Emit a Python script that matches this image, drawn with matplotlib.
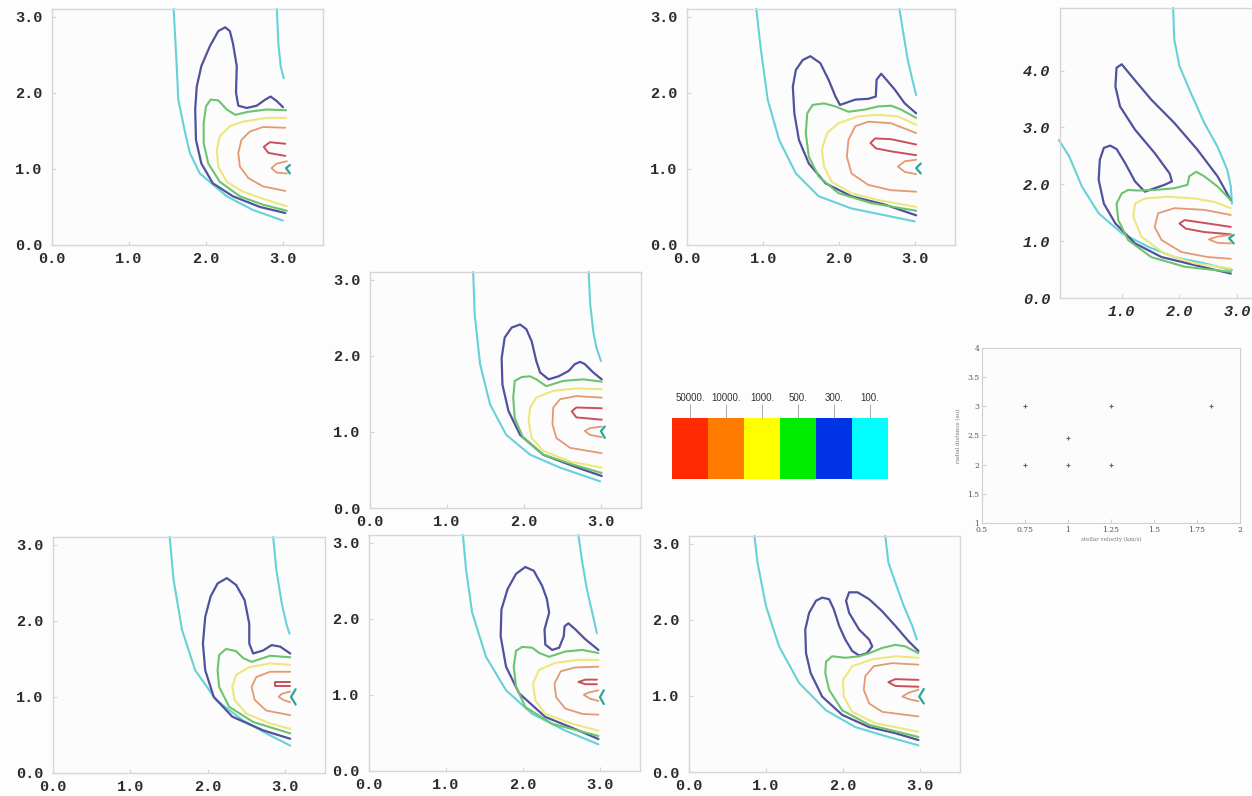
import matplotlib
matplotlib.use("Agg")
import matplotlib.pyplot as plt

# contour levels and their line / key colours
levels = ["50000.", "10000.", "1000.", "500.", "300.", "100."]
key_colors = ["#ff2a00", "#ff7c00", "#ffff00", "#00ec00", "#0032e6", "#00ffff"]
line_colors = {"red": "#c8505a", "orange": "#e39a72", "yellow": "#ece77e",
               "green": "#6cc46e", "blue": "#50529e", "cyan": "#66d2d8", "teal": "#2aa59a"}

# --- run a ---
a_cyan = [(1.58, 3.1), (1.62, 2.35), (1.64, 1.91), (1.73, 1.47), (1.79, 1.21), (1.92, 0.94),
          (2.27, 0.64), (2.61, 0.46), (3.00, 0.32)]
a_cyan_top = [(2.92, 3.1), (2.94, 2.65), (2.97, 2.35), (3.01, 2.19)]
a_blue = [(3.00, 1.81), (2.92, 1.89), (2.84, 1.95), (2.77, 1.91), (2.66, 1.83), (2.53, 1.80),
          (2.42, 1.83), (2.39, 2.00), (2.40, 2.35), (2.35, 2.65), (2.31, 2.81), (2.25, 2.86),
          (2.16, 2.81), (2.05, 2.61), (1.94, 2.35), (1.88, 2.08), (1.86, 1.78), (1.87, 1.38),
          (1.94, 1.07), (2.09, 0.81), (2.35, 0.64), (2.70, 0.50), (3.03, 0.42)]
a_green = [(3.04, 1.77), (2.79, 1.78), (2.55, 1.75), (2.38, 1.71), (2.27, 1.78), (2.16, 1.90),
           (2.06, 1.91), (2.00, 1.82), (1.97, 1.60), (1.97, 1.34), (2.03, 1.07), (2.18, 0.83),
           (2.44, 0.64), (2.74, 0.53), (3.05, 0.45)]
a_yellow = [(3.04, 1.67), (2.79, 1.67), (2.48, 1.62), (2.31, 1.56), (2.18, 1.43), (2.14, 1.25),
            (2.16, 1.03), (2.27, 0.83), (2.48, 0.70), (2.79, 0.59), (3.05, 0.51)]
a_orange = [(3.03, 1.54), (2.74, 1.55), (2.57, 1.49), (2.46, 1.38), (2.42, 1.21), (2.44, 1.03),
            (2.55, 0.88), (2.74, 0.77), (3.03, 0.71)]
a_red = [(3.03, 1.33), (2.83, 1.35), (2.75, 1.29), (2.81, 1.21), (3.03, 1.17)]
a_inner = [(3.05, 1.10), (2.92, 1.07), (2.85, 1.01), (2.92, 0.95), (3.05, 0.94)]
a_teal = [(3.09, 1.05), (3.04, 1.01), (3.09, 0.94)]

# --- run b ---
b_cyan = [(0.91, 3.1), (0.97, 2.57), (1.06, 1.91), (1.21, 1.38), (1.43, 0.94), (1.73, 0.64),
          (2.16, 0.48), (2.60, 0.39), (2.99, 0.31)]
b_cyan_top = [(2.79, 3.1), (2.84, 2.79), (2.90, 2.43), (2.97, 2.13), (3.01, 1.97)]
b_blue = [(3.01, 1.73), (2.86, 1.86), (2.73, 2.04), (2.62, 2.17), (2.55, 2.25), (2.49, 2.17),
          (2.48, 1.95), (2.38, 1.92), (2.21, 1.91), (2.01, 1.84), (1.95, 1.95), (1.86, 2.17),
          (1.75, 2.39), (1.62, 2.48), (1.52, 2.43), (1.43, 2.30), (1.39, 2.08), (1.41, 1.73),
          (1.47, 1.38), (1.60, 1.07), (1.82, 0.81), (2.16, 0.64), (2.60, 0.53), (3.01, 0.39)]
b_green = [(3.01, 1.67), (2.81, 1.78), (2.68, 1.83), (2.51, 1.82), (2.34, 1.78), (2.12, 1.75),
           (1.95, 1.82), (1.80, 1.86), (1.65, 1.84), (1.58, 1.73), (1.56, 1.47), (1.60, 1.16),
           (1.73, 0.90), (1.99, 0.68), (2.42, 0.55), (3.01, 0.45)]
b_yellow = [(3.01, 1.58), (2.77, 1.69), (2.51, 1.71), (2.25, 1.69), (1.99, 1.60), (1.84, 1.47),
            (1.77, 1.25), (1.80, 1.03), (1.90, 0.83), (2.16, 0.68), (2.51, 0.59), (3.01, 0.50)]
b_orange = [(3.01, 1.47), (2.68, 1.60), (2.38, 1.62), (2.21, 1.56), (2.12, 1.38), (2.10, 1.16),
            (2.16, 0.94), (2.38, 0.79), (2.68, 0.72), (3.01, 0.70)]
b_red = [(3.01, 1.32), (2.68, 1.39), (2.47, 1.40), (2.41, 1.34), (2.48, 1.27), (2.68, 1.23),
         (3.01, 1.18)]
b_inner = [(3.01, 1.12), (2.86, 1.10), (2.77, 1.03), (2.86, 0.96), (3.01, 0.93)]
b_teal = [(3.07, 1.07), (3.01, 1.01), (3.07, 0.94)]

# --- run c (taller domain) ---
c_cyan = [(-0.09, 2.78), (0.09, 2.49), (0.31, 1.96), (0.60, 1.49), (1.00, 1.14), (1.46, 0.90),
          (1.91, 0.72), (2.43, 0.61), (2.91, 0.49)]
c_cyan_top = [(1.89, 5.1), (1.91, 4.55), (2.00, 4.08), (2.20, 3.60), (2.43, 3.08), (2.66, 2.66),
              (2.83, 2.25), (2.89, 1.96), (2.91, 1.66)]
c_blue = [(2.89, 1.72), (2.66, 2.14), (2.31, 2.61), (1.91, 3.08), (1.51, 3.49), (1.17, 3.90),
          (1.00, 4.11), (0.91, 4.05), (0.89, 3.72), (0.97, 3.37), (1.23, 2.96), (1.57, 2.55),
          (1.83, 2.19), (1.87, 2.05), (1.74, 1.99), (1.40, 1.87), (1.23, 2.05), (1.06, 2.37),
          (0.91, 2.62), (0.80, 2.68), (0.69, 2.64), (0.62, 2.43), (0.60, 2.08), (0.69, 1.66),
          (0.89, 1.31), (1.23, 0.96), (1.69, 0.72), (2.26, 0.58), (2.89, 0.43)]
c_green = [(2.89, 1.72), (2.66, 1.96), (2.43, 2.14), (2.29, 2.22), (2.17, 2.14), (2.14, 1.99),
           (1.91, 1.93), (1.57, 1.90), (1.29, 1.89), (1.11, 1.90), (1.00, 1.84), (0.91, 1.66),
           (0.94, 1.37), (1.11, 1.02), (1.51, 0.72), (2.09, 0.55), (2.89, 0.46)]
c_yellow = [(2.89, 1.58), (2.60, 1.69), (2.26, 1.75), (1.80, 1.78), (1.40, 1.75), (1.23, 1.66),
            (1.20, 1.43), (1.34, 1.08), (1.74, 0.78), (2.26, 0.61), (2.89, 0.52)]
c_orange = [(2.89, 1.46), (2.43, 1.55), (1.91, 1.58), (1.63, 1.49), (1.57, 1.25), (1.69, 1.02),
            (2.03, 0.81), (2.49, 0.72), (2.89, 0.69)]
c_red = [(2.89, 1.25), (2.43, 1.32), (2.09, 1.37), (2.00, 1.31), (2.11, 1.22), (2.43, 1.16),
         (2.89, 1.12)]
c_inner = [(2.89, 1.11), (2.66, 1.08), (2.51, 1.03), (2.66, 0.97), (2.89, 0.96)]
c_teal = [(2.94, 1.11), (2.86, 1.05), (2.94, 0.96)]

# --- run d ---
d_cyan = [(1.34, 3.1), (1.36, 2.54), (1.43, 1.89), (1.56, 1.36), (1.77, 0.96), (2.08, 0.70),
          (2.47, 0.53), (2.99, 0.35)]
d_cyan_top = [(2.84, 3.1), (2.86, 2.68), (2.90, 2.32), (2.94, 2.11), (3.00, 1.93)]
d_blue = [(3.01, 1.69), (2.90, 1.78), (2.79, 1.89), (2.73, 1.92), (2.66, 1.89), (2.58, 1.80),
          (2.45, 1.73), (2.32, 1.69), (2.21, 1.78), (2.16, 1.93), (2.10, 2.19), (2.03, 2.35),
          (1.95, 2.41), (1.84, 2.37), (1.75, 2.24), (1.71, 1.97), (1.72, 1.62), (1.80, 1.27),
          (1.95, 0.96), (2.25, 0.70), (2.64, 0.55), (3.01, 0.42)]
d_green = [(3.01, 1.66), (2.77, 1.69), (2.51, 1.67), (2.29, 1.60), (2.16, 1.69), (2.08, 1.73),
           (1.97, 1.72), (1.88, 1.67), (1.86, 1.45), (1.88, 1.18), (1.99, 0.92), (2.25, 0.70),
           (2.64, 0.57), (3.01, 0.46)]
d_yellow = [(3.01, 1.56), (2.68, 1.57), (2.38, 1.54), (2.16, 1.45), (2.08, 1.32), (2.06, 1.14),
            (2.10, 0.92), (2.25, 0.75), (2.60, 0.61), (3.01, 0.53)]
d_orange = [(3.01, 1.45), (2.68, 1.47), (2.47, 1.43), (2.38, 1.32), (2.37, 1.10), (2.42, 0.92),
            (2.60, 0.79), (3.01, 0.72)]
d_red = [(3.01, 1.31), (2.68, 1.32), (2.62, 1.27), (2.68, 1.19), (3.01, 1.16)]
d_inner = [(3.01, 1.07), (2.86, 1.05), (2.79, 1.01), (2.86, 0.96), (3.01, 0.93)]
d_teal = [(3.05, 1.07), (3.00, 1.01), (3.05, 0.92)]

# --- run f ---
f_cyan = [(1.51, 3.1), (1.56, 2.54), (1.67, 1.88), (1.84, 1.35), (2.11, 0.96), (2.46, 0.69),
          (2.76, 0.52), (3.07, 0.36)]
f_cyan_top = [(2.85, 3.1), (2.89, 2.67), (2.96, 2.23), (3.02, 1.96), (3.06, 1.83)]
f_blue = [(3.07, 1.57), (2.94, 1.66), (2.83, 1.68), (2.72, 1.61), (2.59, 1.57), (2.54, 1.70),
          (2.54, 1.96), (2.48, 2.27), (2.37, 2.47), (2.25, 2.56), (2.13, 2.49), (2.04, 2.32),
          (1.97, 2.05), (1.94, 1.70), (1.97, 1.35), (2.08, 1.00), (2.32, 0.74), (2.72, 0.56),
          (3.07, 0.45)]
f_green = [(3.07, 1.52), (2.81, 1.54), (2.57, 1.46), (2.46, 1.51), (2.37, 1.60), (2.24, 1.63),
           (2.15, 1.55), (2.13, 1.35), (2.15, 1.13), (2.28, 0.87), (2.59, 0.67), (3.07, 0.52)]
f_yellow = [(3.07, 1.42), (2.81, 1.44), (2.54, 1.39), (2.37, 1.29), (2.32, 1.13), (2.35, 0.96),
            (2.50, 0.78), (2.81, 0.65), (3.07, 0.58)]
f_orange = [(3.07, 1.33), (2.81, 1.33), (2.63, 1.26), (2.57, 1.13), (2.61, 0.96), (2.76, 0.82),
            (3.07, 0.76)]
f_red = [(3.07, 1.20), (2.87, 1.20), (2.87, 1.14), (3.07, 1.14)]
f_inner = [(3.07, 1.07), (2.96, 1.04), (2.92, 1.00), (2.98, 0.96), (3.07, 0.93)]
f_teal = [(3.14, 1.10), (3.08, 1.00), (3.14, 0.90)]

# --- run g ---
g_cyan = [(1.22, 3.1), (1.26, 2.65), (1.34, 2.08), (1.52, 1.50), (1.78, 1.06), (2.12, 0.75),
          (2.55, 0.53), (2.98, 0.35)]
g_cyan_top = [(2.72, 3.1), (2.77, 2.74), (2.83, 2.39), (2.90, 2.08), (2.96, 1.81)]
g_blue = [(2.98, 1.59), (2.81, 1.73), (2.68, 1.86), (2.59, 1.94), (2.54, 1.90), (2.53, 1.77),
          (2.47, 1.62), (2.38, 1.59), (2.29, 1.66), (2.28, 1.86), (2.34, 2.08), (2.31, 2.26),
          (2.25, 2.43), (2.14, 2.63), (2.03, 2.68), (1.91, 2.59), (1.80, 2.39), (1.72, 2.12),
          (1.71, 1.77), (1.78, 1.37), (1.95, 1.02), (2.29, 0.71), (2.68, 0.55), (2.98, 0.42)]
g_green = [(2.98, 1.55), (2.77, 1.59), (2.55, 1.57), (2.34, 1.50), (2.21, 1.55), (2.12, 1.62),
           (1.99, 1.63), (1.91, 1.58), (1.88, 1.37), (1.91, 1.11), (2.03, 0.84), (2.38, 0.62),
           (2.98, 0.46)]
g_yellow = [(2.98, 1.46), (2.72, 1.46), (2.42, 1.42), (2.21, 1.33), (2.13, 1.15), (2.16, 0.93),
            (2.29, 0.75), (2.64, 0.62), (2.98, 0.53)]
g_orange = [(2.98, 1.37), (2.68, 1.36), (2.49, 1.31), (2.41, 1.15), (2.43, 0.97), (2.55, 0.82),
            (2.77, 0.75), (2.98, 0.74)]
g_red = [(2.96, 1.20), (2.81, 1.20), (2.72, 1.17), (2.81, 1.14), (2.96, 1.14)]
g_inner = [(2.98, 1.06), (2.85, 1.03), (2.79, 1.00), (2.87, 0.95), (2.98, 0.92)]
g_teal = [(3.05, 1.06), (3.00, 0.97), (3.05, 0.88)]

# --- run h ---
h_cyan = [(0.85, 3.1), (0.89, 2.75), (1.00, 2.18), (1.17, 1.65), (1.43, 1.17), (1.78, 0.81),
          (2.16, 0.59), (2.59, 0.46), (2.98, 0.35)]
h_cyan_top = [(2.55, 3.1), (2.59, 2.75), (2.68, 2.49), (2.79, 2.18), (2.90, 1.92), (2.96, 1.74)]
h_blue = [(2.98, 1.59), (2.85, 1.72), (2.68, 1.92), (2.51, 2.11), (2.34, 2.27), (2.19, 2.36),
          (2.08, 2.36), (2.04, 2.25), (2.08, 2.09), (2.21, 1.87), (2.34, 1.74), (2.38, 1.65),
          (2.31, 1.56), (2.21, 1.53), (2.12, 1.59), (2.03, 1.74), (1.95, 1.92), (1.88, 2.14),
          (1.82, 2.27), (1.73, 2.29), (1.65, 2.25), (1.56, 2.09), (1.51, 1.87), (1.52, 1.56),
          (1.58, 1.30), (1.73, 0.99), (1.99, 0.75), (2.34, 0.59), (2.68, 0.51), (2.98, 0.42)]
h_green = [(2.98, 1.56), (2.81, 1.65), (2.68, 1.67), (2.51, 1.63), (2.34, 1.56), (2.21, 1.52),
           (2.03, 1.50), (1.86, 1.52), (1.78, 1.45), (1.77, 1.30), (1.82, 1.08), (1.99, 0.81),
           (2.34, 0.62), (2.98, 0.46)]
h_yellow = [(2.98, 1.50), (2.68, 1.52), (2.38, 1.48), (2.12, 1.39), (2.00, 1.21), (2.01, 0.99),
            (2.12, 0.79), (2.42, 0.64), (2.98, 0.53)]
h_orange = [(2.98, 1.41), (2.64, 1.43), (2.40, 1.39), (2.29, 1.26), (2.27, 1.08), (2.34, 0.90),
            (2.51, 0.79), (2.98, 0.73)]
h_red = [(2.98, 1.21), (2.68, 1.22), (2.59, 1.18), (2.68, 1.13), (2.98, 1.12)]
h_inner = [(2.98, 1.08), (2.85, 1.04), (2.77, 0.99), (2.88, 0.95), (2.98, 0.93)]
h_teal = [(3.05, 1.09), (2.99, 0.99), (3.05, 0.90)]

# sample points in the small parameter plot
samp_x = [0.75, 1.25, 1.83, 0.75, 1.0, 1.25, 1.0]
samp_y = [3.0, 3.0, 3.0, 2.0, 2.0, 2.0, 2.45]
samp_xticks = [0.5, 0.75, 1.0, 1.25, 1.5, 1.75, 2.0]
samp_xlabels = ["0.5", "0.75", "1", "1.25", "1.5", "1.75", "2"]
samp_yticks = [1.0, 1.5, 2.0, 2.5, 3.0, 3.5, 4.0]
samp_ylabels = ["1", "1.5", "2", "2.5", "3", "3.5", "4"]

W, H = 1252, 796
fig = plt.figure(figsize=(W / 100, H / 100), dpi=100)
fig.patch.set_facecolor("#fdfdfd")


def rect(left, top, right, bottom):
    return [left / W, 1 - bottom / H, (right - left) / W, (bottom - top) / H]


tick_font = dict(family="Liberation Mono", weight="bold", size=11, color="#2b2b2b")


def contour_panel(box, curves, xlim=(0, 3.52), ylim=(0, 3.1), xticks=(0, 1, 2, 3),
                  yticks=(0, 1, 2, 3), italic=False):
    ax = fig.add_axes(rect(*box))
    ax.set_facecolor("#fcfcfc")
    for pts, col, lw in curves:
        xs, ys = zip(*pts)
        ax.plot(xs, ys, color=line_colors[col], lw=lw, solid_joinstyle="round",
                solid_capstyle="round", clip_on=False)
    ax.set_xlim(*xlim)
    ax.set_ylim(*ylim)
    ax.set_xticks(xticks)
    ax.set_yticks(yticks)
    style = "italic" if italic else "normal"
    ax.set_xticklabels([f"{t:.1f}" for t in xticks], style=style, **tick_font)
    ax.set_yticklabels([f"{t:.1f}" for t in yticks], style=style, **tick_font)
    ax.tick_params(direction="in", length=3, color="#d4d4d4")
    ax.tick_params(axis="x", pad=5)
    ax.tick_params(axis="y", pad=7)
    for s in ax.spines.values():
        s.set_color("#d6d6d6")
        s.set_linewidth(1.0)
    return ax


def curve_set(cyan, cyan_top, blue, green, yellow, orange, red, inner, teal):
    return [(cyan, "cyan", 1.5), (cyan_top, "cyan", 1.5), (blue, "blue", 1.6),
            (green, "green", 1.5), (yellow, "yellow", 1.5), (orange, "orange", 1.3),
            (red, "red", 1.4), (inner, "orange", 1.3), (teal, "teal", 1.6)]


contour_panel((52, 9, 323, 245), curve_set(a_cyan, a_cyan_top, a_blue, a_green, a_yellow,
                                           a_orange, a_red, a_inner, a_teal))
contour_panel((687, 9, 955, 245), curve_set(b_cyan, b_cyan_top, b_blue, b_green, b_yellow,
                                            b_orange, b_red, b_inner, b_teal))
contour_panel((1060, 8, 1266, 298),
              curve_set(c_cyan, c_cyan_top, c_blue, c_green, c_yellow, c_orange, c_red,
                        c_inner, c_teal),
              xlim=(-0.07, 3.5), ylim=(0, 5.1), xticks=(1, 2, 3), yticks=(0, 1, 2, 3, 4),
              italic=True)
contour_panel((370, 272, 641, 508), curve_set(d_cyan, d_cyan_top, d_blue, d_green, d_yellow,
                                              d_orange, d_red, d_inner, d_teal))
contour_panel((53, 537, 325, 773), curve_set(f_cyan, f_cyan_top, f_blue, f_green, f_yellow,
                                             f_orange, f_red, f_inner, f_teal))
contour_panel((369, 535, 640, 771), curve_set(g_cyan, g_cyan_top, g_blue, g_green, g_yellow,
                                              g_orange, g_red, g_inner, g_teal))
contour_panel((689, 536, 960, 772), curve_set(h_cyan, h_cyan_top, h_blue, h_green, h_yellow,
                                              h_orange, h_red, h_inner, h_teal))

# colour key for the contour levels
kax = fig.add_axes(rect(672, 418, 888, 479))
kax.bar(range(len(levels)), [1] * len(levels), width=1.0, color=key_colors)
kax.set_xlim(-0.5, len(levels) - 0.5)
kax.set_ylim(0, 1)
kax.xaxis.tick_top()
kax.set_xticks(range(len(levels)))
kax.set_xticklabels(levels, family="Liberation Sans", size=7, color="#333333")
kax.tick_params(axis="x", length=10, width=0.6, color="#9a9a9a", pad=1)
kax.set_yticks([])
for s in kax.spines.values():
    s.set_visible(False)

# small parameter plot
sax = fig.add_axes(rect(982, 348, 1240, 523))
sax.set_facecolor("#fcfcfc")
sax.plot(samp_x, samp_y, linestyle="none", marker="+", ms=3, mew=0.8, color="#666666")
sax.set_xlim(0.5, 2.0)
sax.set_ylim(1.0, 4.0)
sax.set_xticks(samp_xticks)
sax.set_xticklabels(samp_xlabels, family="DejaVu Serif", size=5.5, color="#555555")
sax.set_yticks(samp_yticks)
sax.set_yticklabels(samp_ylabels, family="DejaVu Serif", size=5.5, color="#555555")
sax.tick_params(direction="in", length=3, width=0.5, color="#bbbbbb", pad=2)
sax.set_xlabel("stellar velocity (km/s)", family="DejaVu Serif", size=4, color="#777777",
               labelpad=2)
sax.set_ylabel("radial distance (au)", family="DejaVu Serif", size=4, color="#777777",
               labelpad=4)
for s in sax.spines.values():
    s.set_color("#cfcfcf")
    s.set_linewidth(0.8)

fig.savefig("out.png", dpi=100, facecolor=fig.get_facecolor())
